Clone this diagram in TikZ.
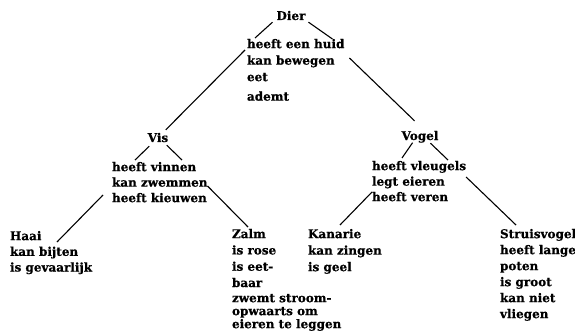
\documentclass[tikz,border=0pt]{standalone}
\usepackage{fontspec}
\setmainfont{DejaVu Serif}[BoldFeatures={FakeBold=0.6}]
\begin{document}
\begin{tikzpicture}[x=1pt,y=-1pt,
  every node/.style={inner sep=0pt,outer sep=0pt,font=\bfseries\fontsize{12}{16}\selectfont},
  word/.style={anchor=base},
  props/.style={anchor=north west,align=left},
  link/.style={draw=black,line width=1.1pt}]
\useasboundingbox (0,0) rectangle (575,334);
\node[word] (dier) at (291,20) {Dier};
\node[props,font=\bfseries\fontsize{12}{16.5}\selectfont] (dierp) at (247,39) {heeft een huid\\kan bewegen\\eet\\[3pt]ademt};
\node[word] (vis) at (158,142) {Vis};
\node[props,font=\bfseries\fontsize{12}{15.5}\selectfont] (visp) at (112,162) {heeft vinnen\\kan zwemmen\\heeft kieuwen};
\node[word] (vogel) at (420,140) {Vogel};
\node[props,font=\bfseries\fontsize{12}{15.5}\selectfont] (vogelp) at (372,161) {heeft vleugels\\legt eieren\\heeft veren};
\node[props,font=\bfseries\fontsize{12}{15.7}\selectfont] (haai) at (10,231) {Haai\\kan bijten\\is gevaarlijk};
\node[props,font=\bfseries\fontsize{12}{16.3}\selectfont] (zalm) at (232,229) {Zalm\\is rose\\is eet-\\baar};
\node[props,font=\bfseries\fontsize{12}{13}\selectfont] (zalmx) at (232,294) {zwemt stroom-\\opwaarts om\\eieren te leggen};
\node[props,font=\bfseries\fontsize{12}{16.5}\selectfont] (kanarie) at (308,229) {Kanarie\\kan zingen\\is geel};
\node[props,font=\bfseries\fontsize{12}{16}\selectfont] (struis) at (500,229) {Struisvogel\\heeft lange\\poten\\is groot\\kan niet\\vliegen};
\draw[link] ([shift={(-4,2)}]dier.south west) -- ([shift={(8,-1)}]dierp.north west);
\draw[link] ([shift={(3,2)}]dier.south east) -- ([shift={(-12,0)}]dierp.north east);
\draw[link] ([shift={(-2,11)}]dierp.north west) -- ([shift={(-2.5,-3)}]vis.north east);
\draw[link] ([shift={(5,19)}]dierp.north east) -- ([shift={(13,-10)}]vogel.north west);
\draw[link] ([shift={(1.5,4)}]vis.south west) -- ([shift={(23,-2)}]visp.north west);
\draw[link] ([shift={(-1.5,3)}]vis.south east) -- ([shift={(70,-2)}]visp.north west);
\draw[link] ([shift={(-9,33)}]visp.north west) -- ([shift={(47,11)}]haai.north west);
\draw[link] ([shift={(0,24)}]visp.north east) -- ([shift={(16,-2)}]zalm.north west);
\draw[link] ([shift={(11,0)}]vogel.south west) -- ([shift={(30,-3)}]vogelp.north west);
\draw[link] ([shift={(-8,0.5)}]vogel.south east) -- ([shift={(76,-1)}]vogelp.north west);
\draw[link] ([shift={(0,31)}]vogelp.north west) -- ([shift={(32,-4)}]kanarie.north west);
\draw[link] ([shift={(0,16)}]vogelp.north east) -- ([shift={(16,-4)}]struis.north west);
\end{tikzpicture}
\end{document}
